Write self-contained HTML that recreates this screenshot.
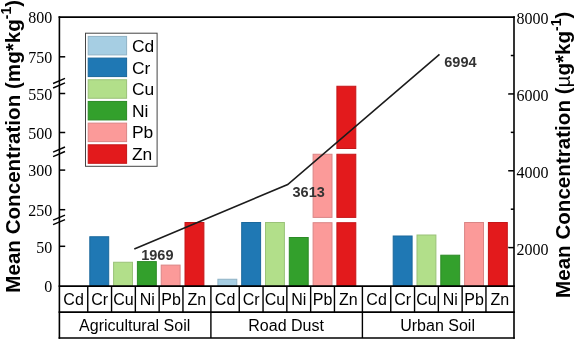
<!DOCTYPE html>
<html><head><meta charset="utf-8"><title>Mean Concentration</title>
<style>
html,body{margin:0;padding:0;background:#fff;}
svg{display:block;}
text{font-family:"Liberation Sans",sans-serif;fill:#000;}
.ser{font-family:"Liberation Serif",serif;font-size:16px;}
.cell{font-size:16px;text-anchor:middle;}
.leg{font-size:17.4px;}
.val{font-size:14.5px;font-weight:bold;fill:#333;}
.yl{font-size:20.6px;font-weight:bold;text-anchor:middle;}
</style></head><body>
<svg width="575" height="340" viewBox="0 0 575 340">
<rect width="575" height="340" fill="#fff"/>
<rect x="89.80" y="236.75" width="18.90" height="49.35" fill="#1F78B4" stroke="#1A689C" stroke-width="1"/>
<rect x="113.60" y="262.25" width="18.90" height="23.85" fill="#B2DF8A" stroke="#9AC278" stroke-width="1"/>
<rect x="137.40" y="261.60" width="18.90" height="24.50" fill="#33A02C" stroke="#2C8B26" stroke-width="1"/>
<rect x="161.20" y="265.10" width="18.90" height="21.00" fill="#FB9A99" stroke="#DA8585" stroke-width="1"/>
<rect x="185.00" y="222.50" width="18.90" height="63.60" fill="#E31A1C" stroke="#C51618" stroke-width="1"/>
<rect x="217.90" y="279.25" width="18.90" height="6.85" fill="#A6CEE3" stroke="#90B3C5" stroke-width="1"/>
<rect x="241.70" y="222.50" width="18.90" height="63.60" fill="#1F78B4" stroke="#1A689C" stroke-width="1"/>
<rect x="265.50" y="222.50" width="18.90" height="63.60" fill="#B2DF8A" stroke="#9AC278" stroke-width="1"/>
<rect x="289.30" y="237.50" width="18.90" height="48.60" fill="#33A02C" stroke="#2C8B26" stroke-width="1"/>
<rect x="313.10" y="154.25" width="18.90" height="63.15" fill="#FB9A99" stroke="#DA8585" stroke-width="1"/>
<rect x="313.10" y="222.70" width="18.90" height="63.40" fill="#FB9A99" stroke="#DA8585" stroke-width="1"/>
<rect x="336.90" y="86.25" width="18.90" height="62.25" fill="#E31A1C" stroke="#C51618" stroke-width="1"/>
<rect x="336.90" y="154.25" width="18.90" height="63.15" fill="#E31A1C" stroke="#C51618" stroke-width="1"/>
<rect x="336.90" y="222.70" width="18.90" height="63.40" fill="#E31A1C" stroke="#C51618" stroke-width="1"/>
<rect x="393.20" y="236.00" width="18.90" height="50.10" fill="#1F78B4" stroke="#1A689C" stroke-width="1"/>
<rect x="417.00" y="235.00" width="18.90" height="51.10" fill="#B2DF8A" stroke="#9AC278" stroke-width="1"/>
<rect x="440.80" y="255.20" width="18.90" height="30.90" fill="#33A02C" stroke="#2C8B26" stroke-width="1"/>
<rect x="464.60" y="222.50" width="18.90" height="63.60" fill="#FB9A99" stroke="#DA8585" stroke-width="1"/>
<rect x="488.40" y="222.50" width="18.90" height="63.60" fill="#E31A1C" stroke="#C51618" stroke-width="1"/>
<polyline points="134.3,249.1 287.7,184.5 439.5,54.4" fill="none" stroke="#1c1c1c" stroke-width="1.6"/>
<g stroke="#000" stroke-width="1.6" fill="none" stroke-linecap="square">
<line x1="59.4" y1="17.1" x2="514.0" y2="17.1"/>
<line x1="514.0" y1="17.1" x2="514.0" y2="338"/>
<line x1="59.4" y1="17.1" x2="59.4" y2="338"/>
<line x1="59.4" y1="286.1" x2="514.0" y2="286.1"/>
<line x1="59.4" y1="312.1" x2="514.0" y2="312.1"/>
<line x1="59.4" y1="338" x2="514.0" y2="338"/>
</g>
<g stroke="#000" stroke-width="1.4">
<line x1="87.75" y1="286.1" x2="87.75" y2="312.1"/>
<line x1="111.55" y1="286.1" x2="111.55" y2="312.1"/>
<line x1="135.35" y1="286.1" x2="135.35" y2="312.1"/>
<line x1="159.15" y1="286.1" x2="159.15" y2="312.1"/>
<line x1="182.95" y1="286.1" x2="182.95" y2="312.1"/>
<line x1="239.25" y1="286.1" x2="239.25" y2="312.1"/>
<line x1="263.05" y1="286.1" x2="263.05" y2="312.1"/>
<line x1="286.85" y1="286.1" x2="286.85" y2="312.1"/>
<line x1="310.65" y1="286.1" x2="310.65" y2="312.1"/>
<line x1="334.45" y1="286.1" x2="334.45" y2="312.1"/>
<line x1="210.90" y1="286.1" x2="210.90" y2="338"/>
<line x1="390.75" y1="286.1" x2="390.75" y2="312.1"/>
<line x1="414.55" y1="286.1" x2="414.55" y2="312.1"/>
<line x1="438.35" y1="286.1" x2="438.35" y2="312.1"/>
<line x1="462.15" y1="286.1" x2="462.15" y2="312.1"/>
<line x1="485.95" y1="286.1" x2="485.95" y2="312.1"/>
<line x1="362.40" y1="286.1" x2="362.40" y2="338"/>
</g>
<g stroke="#000" stroke-width="1.5">
<line x1="59.4" y1="56.8" x2="65.2" y2="56.8"/>
<line x1="59.4" y1="93.5" x2="65.2" y2="93.5"/>
<line x1="59.4" y1="132.5" x2="65.2" y2="132.5"/>
<line x1="59.4" y1="170.1" x2="65.2" y2="170.1"/>
<line x1="59.4" y1="209.7" x2="65.2" y2="209.7"/>
<line x1="59.4" y1="246.3" x2="65.2" y2="246.3"/>
<line x1="514.0" y1="93.94" x2="508.2" y2="93.94"/>
<line x1="514.0" y1="170.78" x2="508.2" y2="170.78"/>
<line x1="514.0" y1="247.62" x2="508.2" y2="247.62"/>
<line x1="514.0" y1="55.52" x2="510.8" y2="55.52"/>
<line x1="514.0" y1="132.36" x2="510.8" y2="132.36"/>
<line x1="514.0" y1="209.20" x2="510.8" y2="209.20"/>
</g>
<line x1="53.1" y1="83.50" x2="65" y2="78.40" stroke="#000" stroke-width="1.4"/>
<line x1="53.1" y1="88.00" x2="65" y2="82.90" stroke="#000" stroke-width="1.4"/>
<line x1="53.1" y1="152.10" x2="65" y2="147.00" stroke="#000" stroke-width="1.4"/>
<line x1="53.1" y1="156.60" x2="65" y2="151.50" stroke="#000" stroke-width="1.4"/>
<line x1="53.1" y1="220.20" x2="65" y2="215.10" stroke="#000" stroke-width="1.4"/>
<line x1="53.1" y1="224.70" x2="65" y2="219.60" stroke="#000" stroke-width="1.4"/>
<text class="ser" x="52.3" y="23.1" text-anchor="end">800</text>
<text class="ser" x="52.3" y="63.1" text-anchor="end">750</text>
<text class="ser" x="52.3" y="99.8" text-anchor="end">550</text>
<text class="ser" x="52.3" y="139.1" text-anchor="end">500</text>
<text class="ser" x="52.3" y="176.2" text-anchor="end">300</text>
<text class="ser" x="52.3" y="215.9" text-anchor="end">250</text>
<text class="ser" x="52.3" y="252.6" text-anchor="end">50</text>
<text class="ser" x="52.3" y="292.3" text-anchor="end">0</text>
<text class="ser" x="516.4" y="24.3">8000</text>
<text class="ser" x="516.4" y="101.1">6000</text>
<text class="ser" x="516.4" y="178.0">4000</text>
<text class="ser" x="516.4" y="254.8">2000</text>
<text class="cell" x="73.6" y="305.3">Cd</text>
<text class="cell" x="99.7" y="305.3">Cr</text>
<text class="cell" x="123.5" y="305.3">Cu</text>
<text class="cell" x="147.2" y="305.3">Ni</text>
<text class="cell" x="171.1" y="305.3">Pb</text>
<text class="cell" x="196.9" y="305.3">Zn</text>
<text class="cell" x="225.1" y="305.3">Cd</text>
<text class="cell" x="251.2" y="305.3">Cr</text>
<text class="cell" x="275.0" y="305.3">Cu</text>
<text class="cell" x="298.8" y="305.3">Ni</text>
<text class="cell" x="322.5" y="305.3">Pb</text>
<text class="cell" x="348.4" y="305.3">Zn</text>
<text class="cell" x="376.6" y="305.3">Cd</text>
<text class="cell" x="402.6" y="305.3">Cr</text>
<text class="cell" x="426.5" y="305.3">Cu</text>
<text class="cell" x="450.2" y="305.3">Ni</text>
<text class="cell" x="474.0" y="305.3">Pb</text>
<text class="cell" x="499.9" y="305.3">Zn</text>
<text class="cell" x="134.7" y="330.8">Agricultural Soil</text>
<text class="cell" x="286.1" y="330.8">Road Dust</text>
<text class="cell" x="437.6" y="330.8">Urban Soil</text>
<text class="val" x="141.2" y="260.3">1969</text>
<text class="val" x="292.5" y="197">3613</text>
<text class="val" x="444.3" y="67.3">6994</text>
<rect x="85.5" y="33.2" width="71.6" height="133.1" fill="#fff" stroke="#444" stroke-width="1"/>
<rect x="88.2" y="36.40" width="38.4" height="18.5" fill="#A6CEE3" stroke="#90B3C5" stroke-width="1"/>
<text class="leg" x="131.9" y="52.0">Cd</text>
<rect x="88.2" y="58.08" width="38.4" height="18.5" fill="#1F78B4" stroke="#1A689C" stroke-width="1"/>
<text class="leg" x="131.9" y="73.5">Cr</text>
<rect x="88.2" y="79.76" width="38.4" height="18.5" fill="#B2DF8A" stroke="#9AC278" stroke-width="1"/>
<text class="leg" x="131.9" y="95.0">Cu</text>
<rect x="88.2" y="101.44" width="38.4" height="18.5" fill="#33A02C" stroke="#2C8B26" stroke-width="1"/>
<text class="leg" x="131.9" y="116.6">Ni</text>
<rect x="88.2" y="123.12" width="38.4" height="18.5" fill="#FB9A99" stroke="#DA8585" stroke-width="1"/>
<text class="leg" x="131.9" y="138.1">Pb</text>
<rect x="88.2" y="144.80" width="38.4" height="18.5" fill="#E31A1C" stroke="#C51618" stroke-width="1"/>
<text class="leg" x="131.9" y="159.6">Zn</text>
<text class="yl" transform="translate(20,146.3) rotate(-90)">Mean Concentration (mg*kg<tspan font-size="14" dy="-9">-1</tspan><tspan dy="9">)</tspan></text>
<text class="yl" transform="translate(569.6,154.8) rotate(-90)">Mean Concentration (<tspan font-weight="normal">µ</tspan>g*kg<tspan font-size="14" dy="-9">-1</tspan><tspan dy="9">)</tspan></text>
</svg></body></html>
